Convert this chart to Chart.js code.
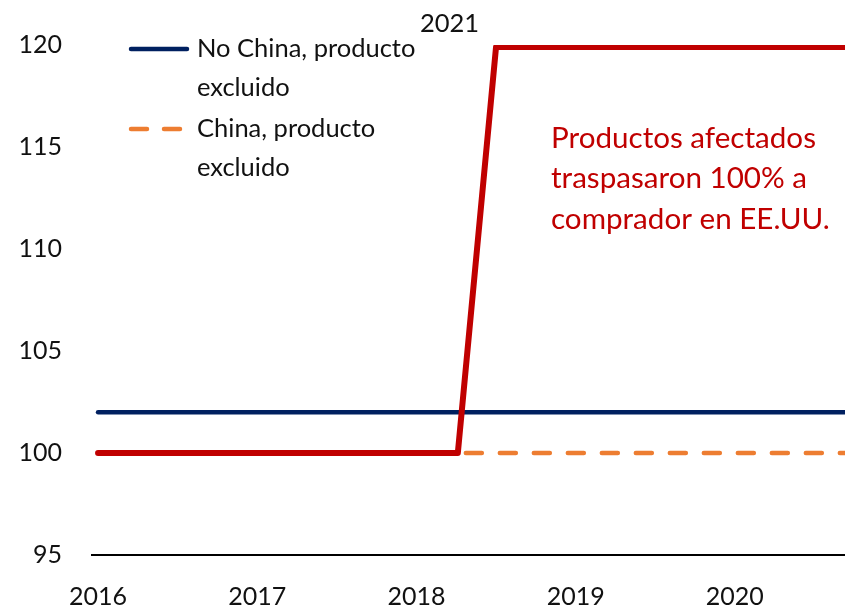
<!DOCTYPE html>
<html>
<head>
<meta charset="utf-8">
<script src="https://cdn.jsdelivr.net/npm/chart.js@4"></script>
<style>
  html, body { margin: 0; padding: 0; background: #fff; }
  #wrap { width: 845px; height: 608px; position: relative; }
</style>
</head>
<body>
<div id="wrap"><canvas id="chart"></canvas></div>
<script>
// --- Data ---
const tickYears = [2016, 2017, 2018, 2019, 2020];
const lineYears = [2016, 2020.7];
const noChinaValues = [102, 102];
const chinaYears = [2018.26, 2020.7];
const chinaValues = [100, 100];
const affectedYears = [2016, 2018.26, 2018.5, 2020.7];
const affectedValues = [100, 100, 119.9, 119.9];
const yTicks = [95, 100, 105, 110, 115, 120];

const legendItems = [
  { lines: ["No China, producto", "excluido"], color: "#002060", dash: [] },
  { lines: ["China, producto", "excluido"], color: "#ED7D31", dash: [16, 17] },
];
const noteLines = ["Productos afectados", "traspasaron 100% a", "comprador en EE.UU."];
const topLabel = "2021";

const FONT = "Lato";

function pts(xs, ys) {
  return xs.map((x, i) => ({ x, y: ys[i] }));
}

// legend + notes drawn on the canvas
const extras = {
  id: "extras",
  afterDraw(chart) {
    const ctx = chart.ctx;
    ctx.save();
    ctx.textBaseline = "middle";
    ctx.font = `25.5px ${FONT}`;
    legendItems.forEach((item, i) => {
      const y0 = 49 + i * 80;
      ctx.strokeStyle = item.color;
      ctx.lineWidth = 4.5;
      ctx.lineCap = "round";
      ctx.setLineDash(item.dash);
      ctx.beginPath();
      ctx.moveTo(131, y0);
      ctx.lineTo(187, y0);
      ctx.stroke();
      ctx.setLineDash([]);
      ctx.fillStyle = "#111";
      ctx.textAlign = "left";
      item.lines.forEach((t, j) => ctx.fillText(t, 197, y0 + j * 39));
    });

    ctx.fillStyle = "#C00000";
    ctx.font = `29.6px ${FONT}`;
    noteLines.forEach((t, j) => ctx.fillText(t, 551, 138 + j * 40.5));

    ctx.fillStyle = "#111";
    ctx.font = `25.5px ${FONT}`;
    ctx.fillText(topLabel, 420, 24);
    ctx.restore();
  },
};

new Chart(document.getElementById("chart"), {
  type: "line",
  data: {
    datasets: [
      {
        label: "Productos afectados",
        data: pts(affectedYears, affectedValues),
        borderColor: "#C00000",
        borderWidth: 6,
        pointRadius: 0,
        borderCapStyle: "round",
        borderJoinStyle: "round",
      },
      {
        label: "No China, producto excluido",
        data: pts(lineYears, noChinaValues),
        borderColor: "#002060",
        borderWidth: 4.5,
        pointRadius: 0,
        borderCapStyle: "round",
      },
      {
        label: "China, producto excluido",
        data: pts(chinaYears, chinaValues),
        borderColor: "#ED7D31",
        borderWidth: 4.5,
        borderDash: [16, 18],
        borderDashOffset: -8,
        pointRadius: 0,
        borderCapStyle: "round",
      },
    ],
  },
  options: {
    responsive: true,
    maintainAspectRatio: false,
    animation: false,
    layout: { padding: { top: 44, right: 0, left: 0, bottom: 0 } },
    plugins: { legend: { display: false }, tooltip: { enabled: false } },
    scales: {
      x: {
        type: "linear",
        min: 2015.962,
        max: 2020.692,
        afterBuildTicks: (axis) => {
          axis.ticks = tickYears.map((v) => ({ value: v }));
        },
        afterFit: (axis) => { axis.height = 53; },
        grid: { display: false, drawTicks: false },
        border: { display: true, color: "#000", width: 2 },
        ticks: {
          color: "#111",
          font: { family: FONT, size: 25 },
          padding: 27,
          maxRotation: 0,
          callback: (v) => String(v),
        },
      },
      y: {
        min: 95,
        max: 120,
        afterBuildTicks: (axis) => {
          axis.ticks = yTicks.map((v) => ({ value: v }));
        },
        afterFit: (axis) => { axis.width = 92; },
        grid: { display: false, drawTicks: false },
        border: { display: false },
        ticks: {
          color: "#111",
          font: { family: FONT, size: 25 },
          padding: 30,
        },
      },
    },
  },
  plugins: [extras],
});
</script>
</body>
</html>
